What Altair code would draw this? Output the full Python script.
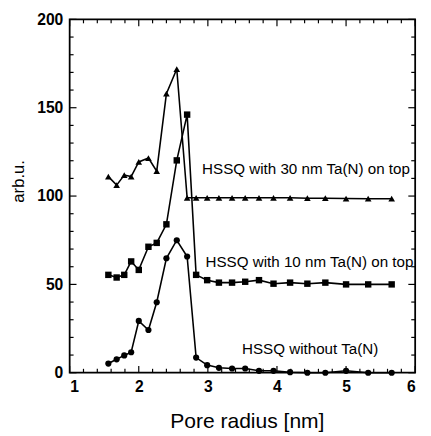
import altair as alt
import pandas as pd

# Shared pore-radius grid (nm)
radius = [1.56, 1.68, 1.79, 1.89, 2.00, 2.14, 2.26, 2.40, 2.55, 2.70, 2.83, 2.99,
          3.16, 3.35, 3.54, 3.74, 3.95, 4.19, 4.44, 4.70, 5.00, 5.32, 5.66]

no_tan = [5.2, 7.6, 9.8, 11.6, 29.3, 24.2, 39.9, 64.8, 75.0, 65.8, 8.6, 4.3,
          2.8, 2.4, 2.4, 1.1, 1.1, 0.3, 0.0, 0.0, 1.1, 0.0, 0.0]
tan10 = [55.4, 53.9, 55.4, 63.0, 58.2, 71.3, 73.5, 84.0, 120.2, 146.1, 55.4, 52.4,
         51.0, 51.0, 51.5, 52.4, 50.4, 51.0, 50.4, 51.0, 50.0, 50.0, 50.0]
tan30 = [111.0, 106.2, 111.9, 111.0, 119.3, 121.5, 114.1, 158.0, 171.9, 99.0, 99.0, 99.0,
         99.0, 99.0, 99.0, 99.0, 99.0, 99.0, 98.8, 98.8, 98.6, 98.5, 98.5]

series_names = ["HSSQ without Ta(N)", "HSSQ with 10 nm Ta(N) on top", "HSSQ with 30 nm Ta(N) on top"]
series_shapes = ["circle", "square", "triangle-up"]

label_text = ["HSSQ with 30 nm Ta(N) on top", "HSSQ with 10 nm Ta(N) on top", "HSSQ without Ta(N)"]
label_x = [4.42, 4.47, 4.48]
label_y = [115.0, 62.5, 13.5]

x_major = [1, 2, 3, 4, 5, 6]
x_minor = [round(1 + 0.2 * i, 2) for i in range(26) if i % 5 != 0]
y_major = [0, 50, 100, 150, 200]
y_minor = [v for v in range(0, 201, 10) if v % 50 != 0]

W, H = 353, 361

rows = []
for name, vals in zip(series_names, [no_tan, tan10, tan30]):
    for r, v in zip(radius, vals):
        rows.append({"r": r, "v": v, "series": name})
df = pd.DataFrame(rows)

xs = alt.Scale(domain=[1, 6], nice=False, zero=False)
ys = alt.Scale(domain=[0, 200], nice=False, zero=False)

FONT = "Liberation Sans"

base = alt.Chart(df)
lines = base.mark_line(color="black", strokeWidth=1.6).encode(
    x=alt.X("r:Q", scale=xs, axis=alt.Axis(
        values=x_major, format="d", tickSize=0, labelPadding=6, labelFontSize=16,
        labelFontWeight="bold", labelFont=FONT, labelColor="black", domain=False, grid=False,
        title="Pore radius [nm]", titleFont=FONT, titleFontSize=21.5, titleFontWeight="normal",
        titleColor="black", titleX=181, titleY=56, titleBaseline="alphabetic", titleAlign="center")),
    y=alt.Y("v:Q", scale=ys, axis=alt.Axis(
        values=y_major, format="d", tickSize=0, labelPadding=7, labelFontSize=16,
        labelFontWeight="bold", labelFont=FONT, labelColor="black", domain=False, grid=False,
        title="arb.u.", titleFont=FONT, titleFontSize=17, titleFontWeight="normal",
        titleColor="black", titleX=-52, titleY=165, titleBaseline="middle", titleAlign="center",
        titleAngle=270)),
    detail="series:N",
)
points = base.mark_point(filled=True, opacity=1, color="black").encode(
    x=alt.X("r:Q", scale=xs),
    y=alt.Y("v:Q", scale=ys),
    shape=alt.Shape("series:N", scale=alt.Scale(domain=series_names, range=series_shapes), legend=None),
    size=alt.Size("series:N", scale=alt.Scale(domain=series_names, range=[40, 46, 24]), legend=None),
)

lab_df = pd.DataFrame({"t": label_text, "x": label_x, "y": label_y})
labels = alt.Chart(lab_df).mark_text(font=FONT, fontSize=15.5, color="black",
                                     align="center", baseline="middle").encode(
    x=alt.X("x:Q", scale=xs), y=alt.Y("y:Q", scale=ys), text="t:N")

def xticks(vals, length):
    d = pd.DataFrame({"x": vals})
    b = alt.Chart(d).mark_rule(color="black", strokeWidth=1.2).encode(
        x=alt.X("x:Q", scale=xs), y=alt.value(H), y2=alt.value(H - length))
    t = alt.Chart(d).mark_rule(color="black", strokeWidth=1.2).encode(
        x=alt.X("x:Q", scale=xs), y=alt.value(0), y2=alt.value(length))
    return b + t

def yticks(vals, length):
    d = pd.DataFrame({"y": vals})
    l = alt.Chart(d).mark_rule(color="black", strokeWidth=1.2).encode(
        y=alt.Y("y:Q", scale=ys), x=alt.value(0), x2=alt.value(length))
    r = alt.Chart(d).mark_rule(color="black", strokeWidth=1.2).encode(
        y=alt.Y("y:Q", scale=ys), x=alt.value(W), x2=alt.value(W - length))
    return l + r

chart = alt.layer(
    lines, points, labels,
    xticks(x_major, 7), xticks(x_minor, 4),
    yticks(y_major, 7), yticks(y_minor, 4),
).properties(
    width=W, height=H,
    autosize=alt.AutoSizeParams(type="none"),
    padding={"left": 63, "top": 7, "right": 8, "bottom": 60},
    background="white",
).configure_view(stroke="black", strokeWidth=1.8)

chart.save("out.html", embed_options={"renderer": "svg", "actions": False})
